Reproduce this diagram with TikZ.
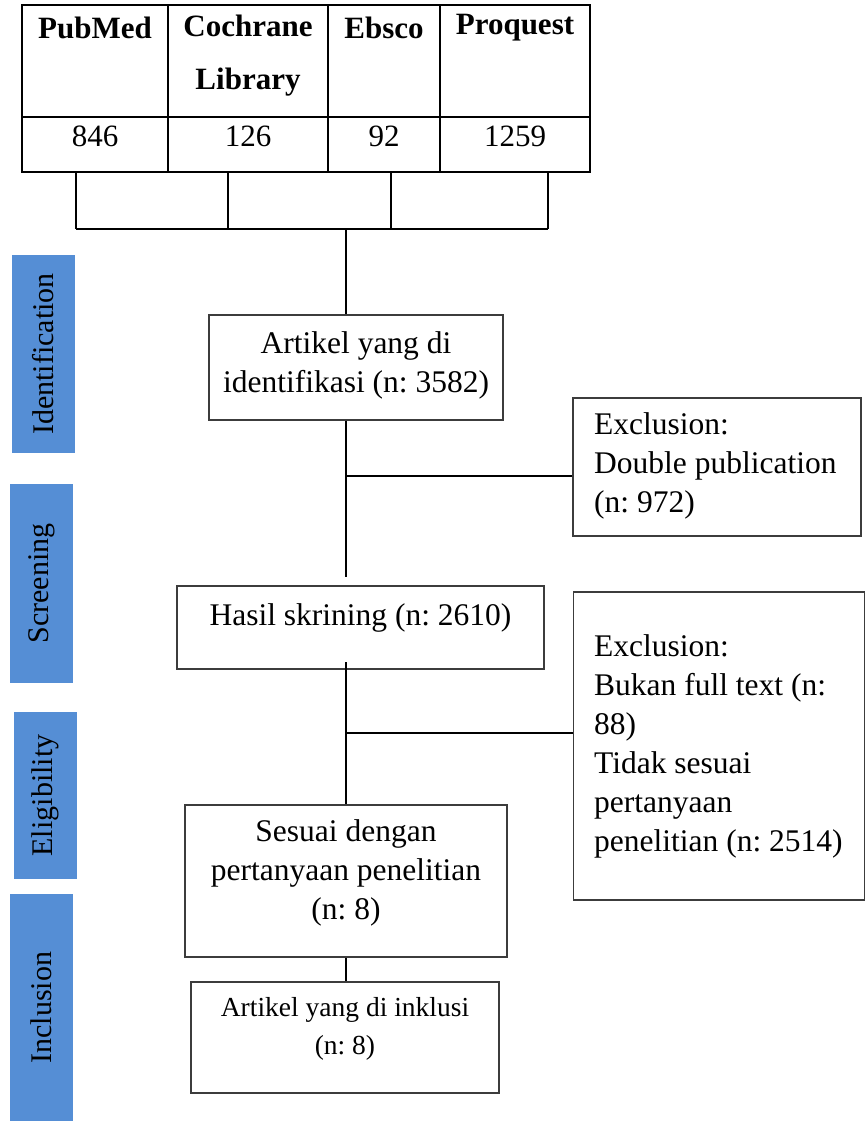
\documentclass[tikz,border=0pt]{standalone}
\usepackage{fontspec}
\setmainfont{Liberation Serif}
\frenchspacing
\definecolor{phaseblue}{RGB}{85,142,213}
\definecolor{boxline}{RGB}{60,60,60}
\begin{document}
\begin{tikzpicture}[x=1pt,y=-1pt,
  cell/.style={draw, line width=1.8pt, inner sep=0pt},
  hd/.style={font=\fontsize{31}{53}\selectfont\bfseries, align=center, inner sep=0pt},
  num/.style={font=\fontsize{31}{35}\selectfont, inner sep=0pt},
  box/.style={draw=boxline, line width=1.2pt, inner sep=0pt},
  txt/.style={font=\fontsize{31.5}{39}\selectfont, align=center, inner sep=0pt},
  ltxt/.style={font=\fontsize{31.5}{39}\selectfont, align=left, inner sep=0pt},
  stxt/.style={font=\fontsize{27.5}{38}\selectfont, align=center, inner sep=0pt},
  phase/.style={fill=phaseblue, rotate=90, inner sep=0pt, minimum height=63,
                font=\fontsize{30}{34}\selectfont},
  conn/.style={line width=1.8pt, black}]
\useasboundingbox (0,0) rectangle (865,1121);

% table
\node[cell, minimum width=146, minimum height=112] (h1) at (95,61) {};
\node[cell, minimum width=160, minimum height=112] (h2) at (248,61) {};
\node[cell, minimum width=112, minimum height=112] (h3) at (384,61) {};
\node[cell, minimum width=150, minimum height=112] (h4) at (515,61) {};
\node[cell, minimum width=146, minimum height=55] (n1) at (95,144.5) {};
\node[cell, minimum width=160, minimum height=55] (n2) at (248,144.5) {};
\node[cell, minimum width=112, minimum height=55] (n3) at (384,144.5) {};
\node[cell, minimum width=150, minimum height=55] (n4) at (515,144.5) {};
\node[hd] (t1) at (95,28) {PubMed};
\node[hd] (t2) at (248,56) {Cochrane\\Library};
\node[hd] (t3) at (384,28) {Ebsco};
\node[hd] (t4) at (515,28) {Proquest};
\node[num] (m1) at (95,136) {846};
\node[num] (m2) at (248,136) {126};
\node[num] (m3) at (384,136) {92};
\node[num] (m4) at (515,136) {1259};

% phase labels
\node[phase, minimum width=198] (p1) at (43.5,354) {Identification};
\node[phase, minimum width=199] (p2) at (41.5,583.5) {Screening};
\node[phase, minimum width=167] (p3) at (45.5,795.5) {Eligibility};
\node[phase, minimum width=227] (p4) at (41.5,1007.5) {Inclusion};

% boxes
\node[box, minimum width=294, minimum height=105] (A) at (356,367.5) {};
\node[txt] (At) at (356,365) {Artikel yang di\\identifikasi (n: 3582)};

\node[box, minimum width=288, minimum height=138] (E1) at (717,467) {};
\node[ltxt, anchor=west] (E1t) at (594,466) {Exclusion:\\Double publication\\(n: 972)};

\node[box, minimum width=367, minimum height=83] (B) at (360.5,627.5) {};
\node[txt] (Bt) at (360.5,618) {Hasil skrining (n: 2610)};

\node[box, minimum width=291, minimum height=308] (E2) at (719,746) {};
\node[ltxt, anchor=west] (E2t) at (594,746) {Exclusion:\\Bukan full text (n:\\88)\\Tidak sesuai\\pertanyaan\\penelitian (n: 2514)};

\node[box, minimum width=322, minimum height=152] (C) at (346,881) {};
\node[txt] (Ct) at (346,873) {Sesuai dengan\\pertanyaan penelitian\\(n: 8)};

\node[box, minimum width=308, minimum height=111] (D) at (345,1037.5) {};
\node[stxt] (Dt) at (345,1029) {Artikel yang di inklusi\\(n: 8)};

% connectors
\coordinate (j1) at (76,229);
\coordinate (j2) at (228,229);
\coordinate (j3) at (391,229);
\coordinate (j4) at (548,229);
\coordinate (jc) at (346,229);
\draw[conn] (n1.south -| j1) -- (j1);
\draw[conn] (n2.south -| j2) -- (j2);
\draw[conn] (n3.south -| j3) -- (j3);
\draw[conn] (n4.south -| j4) -- (j4);
\draw[conn] (j1) -- (j4);
\draw[conn] (jc) -- (A.north -| jc);

\coordinate (a1) at (346,577);
\draw[conn] (A.south -| jc) -- (a1);
\coordinate (b1) at (346,476);
\draw[conn] (b1) -- (b1 -| E1.west);

\coordinate (c0) at (346,662);
\draw[conn] (c0) -- (C.north -| c0);
\coordinate (b2) at (346,733);
\draw[conn] (b2) -- (b2 -| E2.west);

\draw[conn] (C.south -| jc) -- (D.north -| jc);
\end{tikzpicture}
\end{document}
